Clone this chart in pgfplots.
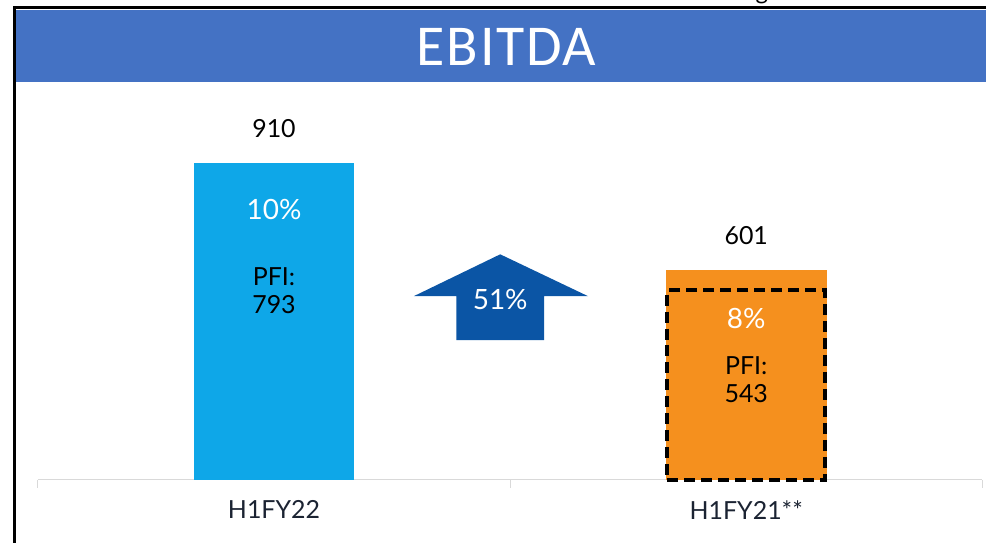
\documentclass[border=0pt]{standalone}
\usepackage{fontspec}
\setmainfont{Lato}
\newfontfamily\titlefont[LetterSpace=3]{Carlito}
\usepackage{pgfplots}
\pgfplotsset{compat=1.18}

\definecolor{barblue}{HTML}{0EA7E8}
\definecolor{barorange}{HTML}{F5901E}
\definecolor{arrowblue}{HTML}{0B55A5}
\definecolor{titleblue}{HTML}{4472C4}
\definecolor{labeltxt}{HTML}{1B2332}

\begin{document}
\begin{tikzpicture}
% canvas 989x544 px, 1 px = 0.5pt
\path (0,0) rectangle (494.5pt,272pt);
\fill[titleblue] (7.25pt,231pt) rectangle (494.5pt,267pt);
\node[text=white, font=\titlefont\fontsize{29}{32}\selectfont] at (254pt,248.5pt) {EBITDA};
\draw[black, line width=1.5pt] (7.25pt,0pt) -- (7.25pt,268pt) -- (494.5pt,268pt);
\begin{scope}
  \clip (360pt,268.8pt) rectangle (400pt,272pt);
  \node[font=\fontsize{12}{14}\selectfont] at (382pt,274pt) {g};
\end{scope}

\begin{axis}[
  at={(19pt,31.5pt)}, anchor=south west,
  scale only axis,
  width=473.5pt, height=199.5pt,
  xmin=-0.5, xmax=1.5,
  ymin=0, ymax=1141.6,
  axis y line=none,
  axis x line=bottom,
  axis line style={draw=gray!30, line width=0.6pt, -},
  xtick={0,1},
  xticklabels={H1FY22, H1FY21**},
  major tick length=0pt,
  xticklabel style={font=\fontsize{12.5}{15}\selectfont, text=labeltxt, yshift=-7pt},
  extra x ticks={-0.5,0.5,1.5},
  extra x tick labels={},
  extra x tick style={major tick length=4pt, tick align=outside, tick style={draw=gray!30, line width=0.6pt}},
  /pgf/number format/assume math mode=true,
  clip=false,
]
\addplot[ybar, bar width=80.5pt, bar shift=0pt, fill=barblue, draw=none,
  nodes near coords, nodes near coords style={font=\fontsize{12.5}{15}\selectfont, text=black, yshift=9pt}]
  coordinates {(0,910)};
\addplot[ybar, bar width=80.5pt, bar shift=0pt, fill=barorange, draw=none,
  nodes near coords, nodes near coords style={font=\fontsize{12.5}{15}\selectfont, text=black, yshift=9.5pt}]
  coordinates {(1,601)};
% PFI box
\addplot[ybar, bar width=79pt, bar shift=0pt, fill=none, draw=black, line width=2pt,
  dash pattern=on 5.5pt off 3pt]
  coordinates {(1,543)};
% growth arrow
\addplot[fill=arrowblue, draw=none, mark=none] coordinates {
  (0.479,646.6) (0.665,526.5) (0.572,526.5) (0.572,400.6)
  (0.386,400.6) (0.386,526.5) (0.296,526.5) (0.479,646.6)
};
\node[text=white, font=\fontsize{14}{16}\selectfont] at (axis cs:0.479,518) {51\%};
\node[text=white, font=\fontsize{14}{16}\selectfont] at (axis cs:0,775) {10\%};
\node[text=black, font=\fontsize{12.5}{14}\selectfont, align=center] at (axis cs:0,543) {PFI:\\793};
\node[text=white, font=\fontsize{14}{16}\selectfont] at (axis cs:1,463) {8\%};
\node[text=black, font=\fontsize{12.5}{14}\selectfont, align=center] at (axis cs:1,286) {PFI:\\543};
\end{axis}
\end{tikzpicture}
\end{document}
